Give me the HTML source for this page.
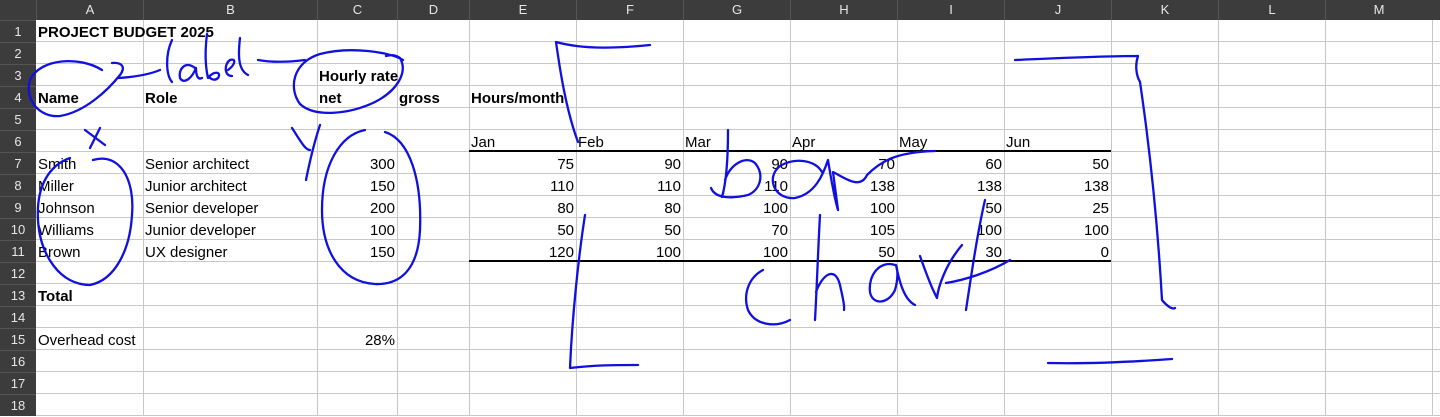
<!DOCTYPE html>
<html><head><meta charset="utf-8"><style>
html,body{margin:0;padding:0;width:1440px;height:415px;overflow:hidden;background:#fff;font-family:"Liberation Sans",sans-serif;}
#sheet{position:absolute;left:0;top:0;width:1440px;height:415px;}
.hd{position:absolute;background:#3c3c3c;color:#e6e6e6;font-size:13px;text-align:center;box-sizing:border-box;}
.vl{position:absolute;top:20px;width:1px;height:395px;background:#c8c8c8;}
.hl{position:absolute;left:36px;height:1px;width:1404px;background:#c8c8c8;}
.c{position:absolute;font-size:15px;line-height:22px;height:22px;color:#000;white-space:nowrap;}
.b{font-weight:bold;}
.r{text-align:right;}
</style></head><body>
<div id="sheet"></div>
<svg id="ink" width="1440" height="415" style="position:absolute;left:0;top:0" fill="none" stroke="#1010e0" stroke-width="2.3" stroke-linecap="round" stroke-linejoin="round">
<path d="M102,70 C80,56 40,58 30,80 C24,100 40,118 60,116 C85,112 108,90 120,75 C126,67 122,62 112,63"/>
<path d="M118,78 C135,77 148,75 160,70"/>
<path d="M172,40 C165,55 166,75 172,82 M195,68 C185,60 178,70 180,78 C184,85 192,78 196,68 C196,76 198,80 202,78 M207,34 C205,50 205,65 208,78 C214,70 222,72 218,78 C214,82 210,78 208,76 M228,70 C236,64 236,58 230,60 C224,64 224,76 232,76 M240,38 C238,55 238,70 248,75"/>
<path d="M258,60 C275,63 290,62 305,60"/>
<path d="M403,60 C390,52 350,46 320,54 C293,62 288,88 300,104 C315,118 350,114 375,102 C398,90 408,72 400,58 C394,54 390,55 386,56"/>
<path d="M85,130 L105,145 M100,128 L90,148"/>
<path d="M93,160 C120,152 135,180 132,215 C130,250 115,280 90,285 C60,285 40,255 38,220 C36,185 50,165 70,158"/>
<path d="M292,128 C300,140 305,150 310,150 M320,125 C315,140 310,160 306,180"/>
<path d="M385,132 C410,140 422,180 420,230 C418,270 400,285 375,284 C340,282 322,250 322,210 C322,165 340,135 365,130"/>
<path d="M650,45 C620,48 585,50 556,42 C560,70 566,110 578,142"/>
<path d="M585,215 C578,260 572,320 570,368 C595,365 615,365 638,365"/>
<path d="M1015,60 C1060,58 1100,56 1138,56 C1135,65 1136,75 1140,82 C1150,150 1158,230 1162,300 C1166,305 1172,310 1175,308"/>
<path d="M1048,363 C1090,364 1130,362 1172,359"/>
<path d="M728,130 C728,155 727,180 722,197 M711,188 C716,200 735,198 748,195 C760,190 765,175 755,163 C745,155 730,165 725,180 M822,172 C815,160 795,157 780,166 C765,178 775,200 795,198 C815,194 823,175 828,160 C832,185 835,200 838,210 C836,195 834,180 833,172 C845,178 860,190 867,175 C880,162 895,152 935,151"/>
<path d="M763,270 C748,278 743,295 748,310 C755,325 775,328 790,320 M820,215 C818,250 817,285 815,320 M816,292 C822,275 835,265 840,285 C842,295 845,305 844,310 M895,265 C880,260 868,275 870,292 C872,305 888,305 895,290 C898,280 898,270 896,265 C900,285 905,300 915,305 M920,256 C925,270 930,285 937,298 C938,288 945,265 962,245 M985,200 C978,230 972,270 966,310 M946,283 C965,280 990,272 1010,260"/>
</svg>
<script>
var sheet=document.getElementById('sheet');
var colEdges=[36,143,317,397,469,576,683,790,897,1004,1111,1218,1325,1432,1440];
var colNames=['A','B','C','D','E','F','G','H','I','J','K','L','M'];
var rowTop=20,rowH=22;
var h=document.createElement('div');h.className='hd';h.style.cssText='left:0;top:0;width:1440px;height:20px';


sheet.appendChild(h);
var rn=document.createElement('div');rn.className='hd';rn.style.cssText='left:0;top:20px;width:36px;height:395px';


sheet.appendChild(rn);
for(var i=0;i<colNames.length;i++){
 var d=document.createElement('div');d.className='hd';
 d.style.cssText='left:'+colEdges[i]+'px;top:0;width:'+(colEdges[i+1]-colEdges[i])+'px;height:20px;line-height:20px;border-left:1px solid #555';
 d.textContent=colNames[i];
 
 
 sheet.appendChild(d);
 var v=document.createElement('div');v.className='vl';v.style.left=colEdges[i+1]+'px';
 
 
 sheet.appendChild(v);
}
for(var r=1;r<=18;r++){
 var y=rowTop+(r-1)*rowH;
 var d=document.createElement('div');d.className='hd';
 d.style.cssText='left:0;top:'+y+'px;width:36px;height:22px;line-height:22px;border-top:1px solid #555';
 d.textContent=r;
 
 
 sheet.appendChild(d);
 var l=document.createElement('div');l.className='hl';l.style.top=(y+rowH-1)+'px';
 
 
 sheet.appendChild(l);
}
function cell(col,row,text,cls,name){
 var ci=colNames.indexOf(col);var x=colEdges[ci];var w=colEdges[ci+1]-colEdges[ci];
 var d=document.createElement('div');d.className='c '+(cls||'');
 var y=rowTop+(row-1)*rowH+2;
 if(cls&&cls.indexOf('r')>=0){d.style.cssText='left:'+x+'px;top:'+y+'px;width:'+(w-2)+'px;';}
 else d.style.cssText='left:'+(x+2)+'px;top:'+y+'px;';
 d.textContent=text;
 
 
 sheet.appendChild(d);
}
cell('A',1,'PROJECT BUDGET 2025','b','title-cell');
cell('C',3,'Hourly rate','b','hourly-rate-header');
cell('A',4,'Name','b','name-header');
cell('B',4,'Role','b','role-header');
cell('C',4,'net','b','net-header');
cell('D',4,'gross','b','gross-header');
cell('E',4,'Hours/month','b','hours-month-header');
var months=['Jan','Feb','Mar','Apr','May','Jun'];
var mcols=['E','F','G','H','I','J'];
months.forEach(function(m,i){cell(mcols[i],6,m,'','month-'+m.toLowerCase());});
var names=['Smith','Miller','Johnson','Williams','Brown'];
var roles=['Senior architect','Junior architect','Senior developer','Junior developer','UX designer'];
var rates=[300,150,200,100,150];
var hours=[[75,90,90,70,60,50],[110,110,110,138,138,138],[80,80,100,100,50,25],[50,50,70,105,100,100],[120,100,100,50,30,0]];
names.forEach(function(n,i){
 cell('A',7+i,n,'','name-'+n.toLowerCase());
 cell('B',7+i,roles[i],'','role-'+n.toLowerCase());
 cell('C',7+i,String(rates[i]),'r','rate-'+n.toLowerCase());
 hours[i].forEach(function(hv,j){cell(mcols[j],7+i,String(hv),'r','hours-'+n.toLowerCase()+'-'+months[j].toLowerCase());});
});
cell('A',13,'Total','b','total-label');
cell('A',15,'Overhead cost','','overhead-label');
cell('C',15,'28%','r','overhead-value');
[rowTop+6*rowH-1,rowTop+11*rowH-1].forEach(function(y,k){
 var d=document.createElement('div');
 d.style.cssText='position:absolute;left:469px;width:642px;height:2px;background:#000;top:'+(y-1)+'px';
 
 
 sheet.appendChild(d);
});
</script>
</body></html>
